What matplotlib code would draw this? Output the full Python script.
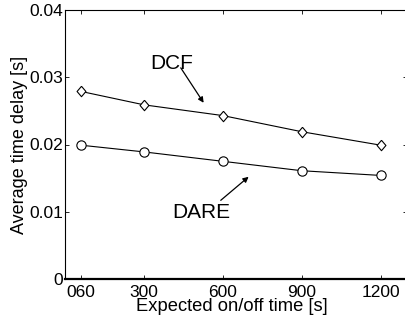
import matplotlib.pyplot as plt

plt.rcParams["font.family"] = ["Liberation Sans", "DejaVu Sans"]
plt.rcParams["font.size"] = 12

# data
on_off_time = [60, 300, 600, 900, 1200]
dcf_delay = [0.0279, 0.0259, 0.0243, 0.0219, 0.0199]
dare_delay = [0.0199, 0.0189, 0.0175, 0.0161, 0.0154]
x_ticks = [60, 300, 600, 900, 1200]
x_tick_labels = ["060", "300", "600", "900", "1200"]
y_ticks = [0, 0.01, 0.02, 0.03, 0.04]
y_tick_labels = ["0", "0.01", "0.02", "0.03", "0.04"]

fig = plt.figure(figsize=(4.05, 3.2), dpi=100)
ax = fig.add_axes([65 / 405, 1 - 279 / 320, 342 / 405, 269 / 320])

diamond = [(0, 1), (0.85, 0), (0, -1), (-0.85, 0), (0, 1)]
ax.plot(on_off_time, dcf_delay, color="black", lw=0.8,
        marker=diamond, markersize=7.5, markerfacecolor="white",
        markeredgecolor="black", markeredgewidth=0.8)
ax.plot(on_off_time, dare_delay, color="black", lw=0.8,
        marker="o", markersize=6.7, markerfacecolor="white",
        markeredgecolor="black", markeredgewidth=0.8)

# labels with arrows
ax.text(405, 0.0321, "DCF", ha="center", va="center", fontsize=15)
ax.annotate("", xy=(527, 0.0262), xytext=(440, 0.0314),
            arrowprops=dict(arrowstyle="-|>", color="black", lw=0.9,
                            mutation_scale=8, shrinkA=0, shrinkB=0))
ax.text(519, 0.0099, "DARE", ha="center", va="center", fontsize=15)
ax.annotate("", xy=(698, 0.0152), xytext=(592, 0.0117),
            arrowprops=dict(arrowstyle="-|>", color="black", lw=0.9,
                            mutation_scale=8, shrinkA=0, shrinkB=0))

ax.set_xlim(0, 1300)
ax.set_ylim(0, 0.04)
ax.set_xticks(x_ticks)
ax.set_xticklabels(x_tick_labels)
ax.set_yticks(y_ticks)
ax.set_yticklabels(y_tick_labels)
ax.tick_params(direction="in", length=3, width=0.6, top=True, right=True,
               pad=1.5, labelsize=12.5)
ax.tick_params(axis="x", pad=4.5)
for side in ["left", "top", "right"]:
    ax.spines[side].set_linewidth(0.8)
ax.spines["bottom"].set_linewidth(1.6)

ax.set_xlabel("Expected on/off time [s]", fontsize=13.2)
ax.xaxis.set_label_coords(0.5 - 4 / 342, -0.072)
ax.set_ylabel("Average time delay [s]", fontsize=13)
ax.yaxis.set_label_coords(-0.109, 0.5)

fig.savefig("out.png", dpi=100)
